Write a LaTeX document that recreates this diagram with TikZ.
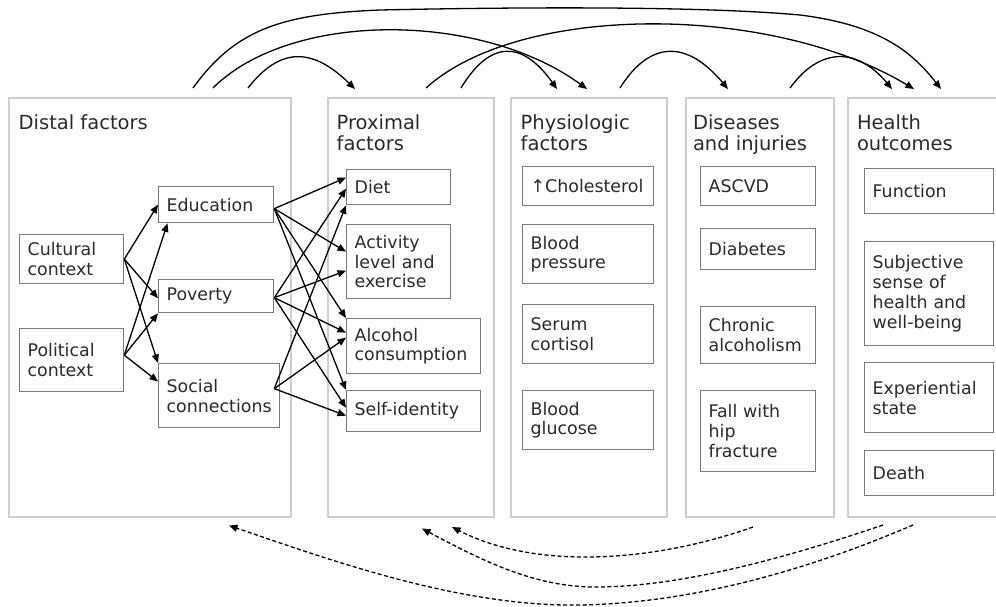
\documentclass[tikz,border=0pt]{standalone}
\usepackage{fontspec}
\setmainfont{DejaVu Sans}
\usetikzlibrary{arrows.meta,calc}
\definecolor{txtc}{HTML}{2A2A2A}
\definecolor{boxc}{HTML}{7A7A7A}
\definecolor{panelc}{HTML}{CFCFCF}
\tikzset{
  panel/.style={draw=panelc, line width=2pt, rectangle, inner sep=0pt, anchor=north west},
  bx/.style 2 args={draw=boxc, line width=1.3pt, rectangle, anchor=north west,
    inner xsep=8pt, inner ysep=0pt, align=left, text=txtc,
    font=\fontsize{17.4}{19.8}\selectfont, text width=#1, minimum height=#2},
  ttl/.style={anchor=north west, inner sep=0pt, align=left, text=txtc,
    font=\fontsize{19.5}{21}\selectfont},
  arr/.style={-{Triangle[length=8.5pt,width=7pt]}, line width=1.3pt, black},
  darr/.style={arr, dash pattern=on 4pt off 2.5pt},
}
\begin{document}
\begin{tikzpicture}[x=1pt,y=-1pt]
\useasboundingbox (0,0) rectangle (996,606);
% panels
\node[panel, minimum width=282pt, minimum height=419pt] (distal) at (8,97) {};
\node[panel, minimum width=166pt, minimum height=419pt] (prox) at (327,97) {};
\node[panel, minimum width=156pt, minimum height=419pt] (phys) at (510,97) {};
\node[panel, minimum width=148pt, minimum height=419pt] (dis) at (685,97) {};
\node[panel, minimum width=170pt, minimum height=419pt] (health) at (847,97) {};
% titles
\node[ttl] (tdist) at (18.5,114.7) {Distal factors};
\node[ttl] (tprox) at (336.5,114.7) {Proximal\\factors};
\node[ttl] (tphys) at (520.5,114.7) {Physiologic\\factors};
\node[ttl] (tdis) at (692.8,114.7) {Diseases\\and injuries};
\node[ttl] (thealth) at (856.8,114.7) {Health\\outcomes};
% distal boxes
\node[bx={88pt}{49pt}] (cult) at (19,234) {Cultural\\context};
\node[bx={88pt}{63pt}] (pol) at (19,328) {Political\\context};
\node[bx={99pt}{36pt}] (edu) at (158,186) {Education};
\node[bx={99pt}{33pt}] (pov) at (158,279) {Poverty};
\node[bx={105pt}{64pt}] (soc) at (158,363) {Social\\connections};
% proximal boxes
\node[bx={88pt}{35pt}] (diet) at (346,169) {Diet};
\node[bx={88pt}{74pt}] (act) at (346,224) {Activity\\level and\\exercise};
\node[bx={118pt}{55pt}] (alc) at (346,318) {Alcohol\\consumption};
\node[bx={118pt}{41pt}] (self) at (346,390) {Self-identity};
% physiologic boxes
\node[bx={115pt}{39pt}] (chol) at (522,166) {↑Cholesterol};
\node[bx={115pt}{59pt}] (bp) at (522,224) {Blood\\pressure};
\node[bx={115pt}{59pt}] (ser) at (522,304) {Serum\\cortisol};
\node[bx={115pt}{59pt}] (bg) at (522,390) {Blood\\glucose};
% diseases boxes
\node[bx={99pt}{39pt}] (ascvd) at (700,166) {ASCVD};
\node[bx={99pt}{41pt}] (diab) at (700,228) {Diabetes};
\node[bx={99pt}{57pt}] (chron) at (700,306) {Chronic\\alcoholism};
\node[bx={99pt}{81pt}] (fall) at (700,390) {Fall with\\hip\\fracture};
% health boxes
\node[bx={113pt}{45pt}] (func) at (864,168) {Function};
\node[bx={113pt}{104pt}] (subj) at (864,241) {Subjective\\sense of\\health and\\well-being};
\node[bx={113pt}{70pt}] (exp) at (864,362) {Experiential\\state};
\node[bx={113pt}{45pt}] (death) at (864,450) {Death};
% distal arrows
\coordinate (polS) at ($(pol.east)+(0,-5)$);
\draw[arr] (cult.east) -- (edu.west);
\draw[arr] (polS) -- ($(edu.south west)+(9.5,0)$);
\draw[arr] (cult.east) -- ($(pov.west)+(0,2)$);
\draw[arr] (polS) -- (pov.south west);
\draw[arr] (cult.east) -- (soc.north west);
\draw[arr] (polS) -- ($(soc.north west)+(0,18.5)$);
% distal -> proximal arrows
\coordinate (eduS) at ($(edu.east)+(0,4)$);
\coordinate (povS) at ($(pov.east)+(0,1.5)$);
\coordinate (socS) at ($(soc.east)+(-6,-7)$);
\draw[arr] (eduS) -- ($(diet.west)+(0,-9.5)$);
\draw[arr] (povS) -- ($(diet.west)+(0,1.5)$);
\draw[arr] (socS) -- (diet.south west);
\draw[arr] (eduS) -- ($(act.west)+(0,-10)$);
\draw[arr] (povS) -- ($(act.west)+(0,9)$);
\draw[arr] (eduS) -- (alc.north west);
\draw[arr] (povS) -- ($(alc.west)+(0,-13.5)$);
\draw[arr] (socS) -- ($(alc.west)+(0,-8.5)$);
\draw[arr] (eduS) -- (self.north west);
\draw[arr] (povS) -- ($(self.west)+(0,-3.5)$);
\draw[arr] (socS) -- ($(self.west)+(0,4.5)$);
% top arcs: end points
\coordinate (aS) at ($(distal.north west)+(185,-9)$);
\coordinate (bS) at ($(distal.north west)+(205,-9)$);
\coordinate (cS) at ($(distal.north west)+(240,-9)$);
\coordinate (dS) at ($(prox.north west)+(99,-9)$);
\coordinate (eS) at ($(prox.north west)+(134,-9)$);
\coordinate (fS) at ($(phys.north west)+(110,-9)$);
\coordinate (gS) at ($(dis.north west)+(105,-9)$);
\coordinate (cE) at ($(prox.north west)+(28,-8)$);
\coordinate (eE) at ($(phys.north west)+(47,-8)$);
\coordinate (bE) at ($(phys.north west)+(77,-8)$);
\coordinate (fE) at ($(dis.north west)+(43,-8)$);
\coordinate (gE) at ($(health.north west)+(45,-8)$);
\coordinate (dE) at ($(health.north west)+(67,-8)$);
\coordinate (aE) at ($(health.north west)+(94,-8)$);
\draw[arr] (aS) .. controls (235,30) and (280,14) .. (380,10)
  .. controls (520,7) and (700,6) .. (800,15)
  .. controls (880,25) and (912,52) .. (aE);
\draw[arr] (bS) .. controls (290,11) and (480,11) .. (bE);
\draw[arr] (cS) .. controls (280,47) and (312,47) .. (cE);
\draw[arr] (dS) .. controls (520,3) and (770,3) .. (dE);
\draw[arr] (eS) .. controls (490,40) and (522,40) .. (eE);
\draw[arr] (fS) .. controls (650,40) and (687,40) .. (fE);
\draw[arr] (gS) .. controls (820,47) and (857,47) .. (gE);
% bottom dashed feedback arcs
\coordinate (h1S) at ($(dis.south west)+(68,9)$);
\coordinate (h2S) at ($(health.south west)+(36,7)$);
\coordinate (h3S) at ($(health.south west)+(66,7)$);
\coordinate (h1E) at ($(prox.south west)+(125,9)$);
\coordinate (h2E) at ($(prox.south west)+(95,10.5)$);
\coordinate (h3E) at ($(distal.south west)+(221,7.5)$);
\draw[darr] (h1S) .. controls (660,560) and (540,572) .. (h1E);
\draw[darr] (h2S) .. controls (780,560) and (680,586) .. (600,587)
  .. controls (540,588) and (490,565) .. (h2E);
\draw[darr] (h3S) .. controls (820,565) and (700,603) .. (580,605)
  .. controls (460,607) and (330,560) .. (h3E);
\end{tikzpicture}
\end{document}
